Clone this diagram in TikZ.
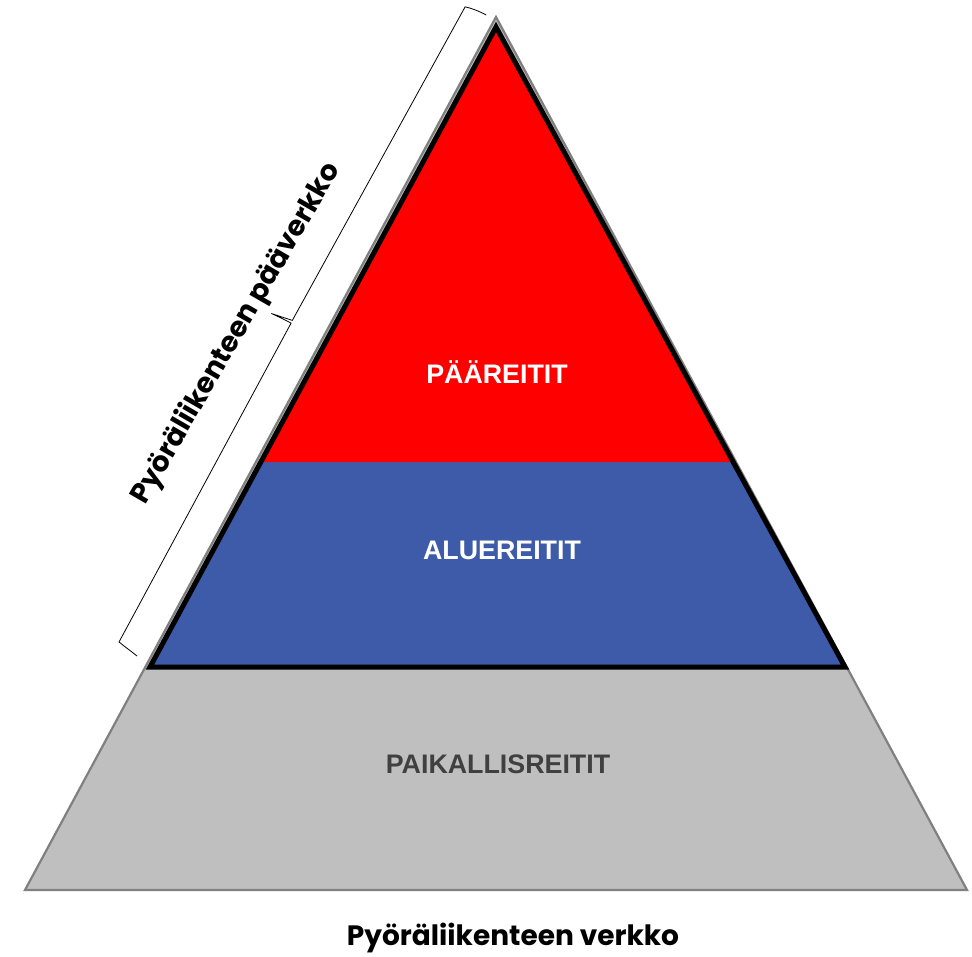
\documentclass[tikz,border=0pt]{standalone}
\usepackage{fontspec}
\setmainfont{Liberation Sans}
\newfontfamily\geofont{Poppins}
\definecolor{topred}{RGB}{255,0,0}
\definecolor{midblue}{RGB}{62,91,169}
\definecolor{lowgray}{RGB}{191,191,191}
\definecolor{edgegray}{RGB}{128,128,128}
\definecolor{textgray}{RGB}{64,64,64}
\begin{document}
\begin{tikzpicture}[x=1pt,y=-1pt,
  levellabel/.style={font=\bfseries\fontsize{26.8}{30}\selectfont, anchor=base},
  titlelabel/.style={font=\geofont\bfseries\fontsize{28}{32}\selectfont}]
\useasboundingbox (0,0) rectangle (972,956);
% outer gray triangle
\coordinate (gL) at (25,890);
\coordinate (gR) at (967,890);
\coordinate (gT) at (496,17);
\fill[lowgray] (gL) -- (gR) -- (gT) -- cycle;
\draw[edgegray, line width=2.2pt, line join=miter] (gL) -- (gR) -- (gT) -- cycle;
% inner triangle
\coordinate (bL) at (150,667);
\coordinate (bR) at (845,667);
\coordinate (bT) at (496,27);
\coordinate (rL) at (260.8,462);
\coordinate (rR) at (733.2,462);
\fill[midblue] (bL) -- (bR) -- (bT) -- cycle;
\fill[topred] (rL) -- (rR) -- (bT) -- cycle;
\draw[black, line width=5pt, line join=miter] (bL) -- (bR) -- (bT) -- cycle;
% labels
\node[levellabel, text=white] (paa) at (497,383) {PÄÄREITIT};
\node[levellabel, text=white] (alue) at (502,559) {ALUEREITIT};
\node[levellabel, text=textgray] (paik) at (498,773) {PAIKALLISREITIT};
% brace
\coordinate (braceA) at (137,656);
\begin{scope}[shift={(braceA)}, x={(0.4797pt,0.8774pt)}, y={(-0.8774pt,0.4797pt)}]
  \draw[black, line width=0.8pt]
    (0,0) .. controls (1.5,8) and (2.5,17) .. (3.7,22.5)
    -- (366,24.5) .. controls (366,32) and (365.5,40) .. (365,46.5)
    .. controls (366.5,38) and (368,30) .. (369,24.7)
    -- (727,23.5) .. controls (729,17) and (730,8) .. (730,1);
\end{scope}
\node[titlelabel, rotate=60] (main) at (236.5,333.5) {Pyöräliikenteen pääverkko};
\node[titlelabel, anchor=base] (net) at (513,945) {Pyöräliikenteen verkko};
\end{tikzpicture}
\end{document}
